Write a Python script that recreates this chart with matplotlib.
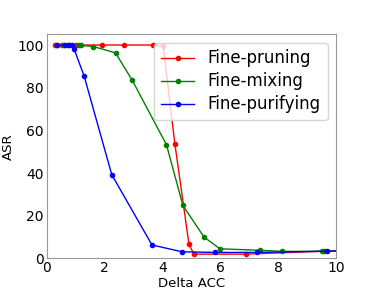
import matplotlib
matplotlib.use("Agg")
import matplotlib.pyplot as plt

prune_x = [0.30, 0.52, 0.75, 1.00, 1.92, 2.67, 3.66, 4.03, 4.43, 4.92, 5.09, 6.89, 9.60, 10.5]
prune_y = [100, 100, 100, 100, 100, 100, 100, 99.5, 53.8, 6.6, 2.0, 2.0, 3.4, 3.5]

mix_x = [0.35, 0.60, 1.13, 1.20, 1.61, 2.38, 2.96, 4.14, 4.71, 5.44, 5.99, 7.38, 8.14, 9.52, 10.5]
mix_y = [100, 100, 100, 99.8, 99.3, 96.3, 83.4, 53.3, 24.8, 10.0, 4.5, 3.8, 3.3, 3.3, 3.6]

pur_x = [0.36, 0.63, 0.78, 0.86, 0.94, 1.29, 2.25, 3.64, 4.68, 5.81, 7.27, 9.69, 10.5]
pur_y = [100, 100, 100, 100, 98.3, 85.6, 39.2, 6.3, 3.1, 2.8, 2.8, 3.4, 3.6]

fig = plt.figure(figsize=(3.74, 2.91), dpi=100)
ax = fig.add_axes([0.125, 0.112, 0.773, 0.770])

ax.plot(prune_x, prune_y, color="red", marker="o", ms=3, lw=1.0, label="Fine-pruning")
ax.plot(mix_x, mix_y, color="green", marker="o", ms=3, lw=1.0, label="Fine-mixing")
ax.plot(pur_x, pur_y, color="blue", marker="o", ms=3, lw=1.0, label="Fine-purifying")

ax.set_xlim(0, 10)
ax.set_ylim(0, 105)
ax.set_xticks([0, 2, 4, 6, 8, 10])
ax.set_yticks([0, 20, 40, 60, 80, 100])
ax.tick_params(length=0, pad=2, labelsize=10)
for s in ax.spines.values():
    s.set_color("0.6")
ax.set_xlabel("Delta ACC", fontsize=9.5, labelpad=1)
ax.set_ylabel("ASR", fontsize=9.5, labelpad=2)
ax.legend(loc="upper right", fontsize=12, labelspacing=0.3, borderpad=0.4)

fig.savefig("out.png", dpi=100)
